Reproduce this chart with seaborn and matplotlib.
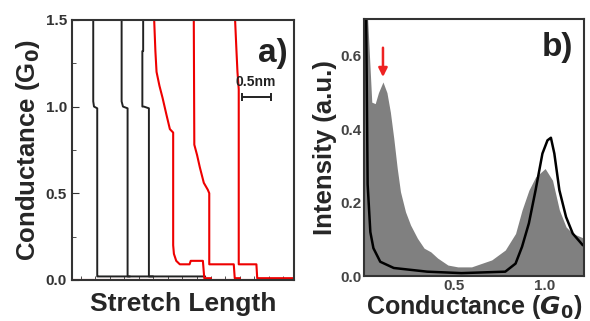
import numpy as np
import pandas as pd
import seaborn as sns
import matplotlib.pyplot as plt

# ---- panel a) : conductance traces (x in nm, y in G0)
black1_x = [0.367, 0.367, 0.380, 0.436, 0.436, 0.45, 2.30]
black1_y = [1.50, 1.03, 1.00, 0.99, 0.02, 0.02, 0.02]
black2_x = [0.857, 0.857, 0.880, 0.960, 0.960, 1.00]
black2_y = [1.50, 1.03, 1.00, 0.99, 0.02, 0.02]
black3_x = [1.229, 1.229, 1.215, 1.215, 1.240, 1.328, 1.328, 1.40]
black3_y = [1.50, 1.32, 1.32, 1.00, 1.00, 0.99, 0.02, 0.02]
red1_x = [1.419, 1.440, 1.460, 1.510, 1.564, 1.633, 1.690, 1.747, 1.747,
          1.760, 1.800, 1.862, 2.030, 2.050, 2.260, 2.284, 2.40]
red1_y = [1.50, 1.32, 1.20, 1.12, 1.05, 0.95, 0.87, 0.85, 0.20,
          0.15, 0.11, 0.09, 0.09, 0.11, 0.11, 0.01, 0.01]
red2_x = [2.103, 2.108, 2.112, 2.160, 2.207, 2.276, 2.345, 2.370, 2.370,
          2.793, 2.810, 2.90]
red2_y = [1.50, 1.10, 0.78, 0.72, 0.65, 0.56, 0.52, 0.50, 0.09,
          0.09, 0.01, 0.01]
red3_x = [2.816, 2.840, 2.857, 2.879, 2.879, 3.184, 3.198, 3.83]
red3_y = [1.50, 1.32, 1.20, 1.10, 0.09, 0.09, 0.01, 0.01]
red_base_x = [0.0, 3.83]
red_base_y = [0.0, 0.0]

# ---- panel b) : conductance histogram
hist_x = [0.0, 0.02, 0.043, 0.062, 0.08, 0.105, 0.127, 0.146, 0.165, 0.184,
          0.202, 0.23, 0.258, 0.296, 0.333, 0.37, 0.408, 0.465, 0.52, 0.596,
          0.708, 0.783, 0.84, 0.876, 0.914, 0.951, 1.004, 1.045, 1.083, 1.12,
          1.157, 1.22]
hist_y = [0.70, 0.70, 0.474, 0.47, 0.50, 0.529, 0.50, 0.447, 0.375, 0.294,
          0.23, 0.175, 0.139, 0.103, 0.076, 0.066, 0.049, 0.03, 0.025, 0.025,
          0.044, 0.071, 0.116, 0.18, 0.234, 0.27, 0.293, 0.261, 0.18, 0.134,
          0.116, 0.103]
fit_x = [0.0, 0.012, 0.02, 0.035, 0.052, 0.09, 0.165, 0.35, 0.54, 0.783,
         0.84, 0.876, 0.914, 0.951, 0.989, 1.017, 1.036, 1.055, 1.083, 1.12,
         1.157, 1.213]
fit_y = [0.70, 0.70, 0.25, 0.12, 0.076, 0.039, 0.022, 0.012, 0.008, 0.012,
         0.034, 0.08, 0.144, 0.234, 0.334, 0.37, 0.377, 0.334, 0.234, 0.161,
         0.116, 0.084]

sns.set_style("ticks")
plt.rcParams['font.family'] = ['Liberation Sans', 'DejaVu Sans']
plt.rcParams['font.weight'] = 'bold'
plt.rcParams['axes.labelweight'] = 'bold'

fig = plt.figure(figsize=(5.9, 3.21), dpi=100)
ax1 = fig.add_axes([0.122, 0.128, 0.376, 0.81])
ax2 = fig.add_axes([0.617, 0.140, 0.373, 0.80])

spine_col = '#333333'

# panel a
sns.lineplot(x=red_base_x, y=red_base_y, ax=ax1, color='#ee0000', lw=1.5, sort=False, estimator=None)
for xs, ys in [(black1_x, black1_y), (black2_x, black2_y), (black3_x, black3_y)]:
    sns.lineplot(x=xs, y=ys, ax=ax1, color='#222222', lw=1.4, sort=False, estimator=None)
for xs, ys in [(red1_x, red1_y), (red2_x, red2_y), (red3_x, red3_y)]:
    sns.lineplot(x=xs, y=ys, ax=ax1, color='#ee0000', lw=1.5, sort=False, estimator=None)

ax1.set_xlim(0, 3.83)
ax1.set_ylim(0, 1.5)
ax1.set_yticks([0.0, 0.5, 1.0, 1.5])
ax1.set_yticks([0.25, 0.75, 1.25], minor=True)
ax1.set_xticks(np.arange(0.15, 3.8, 0.25), minor=True)
ax1.set_xticks([])
ax1.tick_params(axis='both', which='both', direction='in', colors=spine_col, labelsize=11, length=3)
ax1.tick_params(axis='y', which='major', length=5)
ax1.set_yticklabels(['0.0', '0.5', '1.0', '1.5'], color='#333333', fontweight='bold')
ax1.set_xlabel('Stretch Length', fontsize=19, labelpad=5)
ax1.set_ylabel('Conductance (G$_\\mathbf{0}$)', fontsize=18.5, labelpad=3)
ax1.text(0.97, 0.93, 'a)', transform=ax1.transAxes, ha='right', va='top', fontsize=24, fontweight='bold', color='#222222')
# 0.5 nm scale bar
ax1.errorbar([3.18], [1.056], xerr=[0.25], color='#222222', lw=1.4, capsize=3, capthick=1.4)
ax1.text(3.18, 1.10, '0.5nm', ha='center', va='bottom', fontsize=10, fontweight='bold', color='#222222')

# panel b
ax2.fill_between(hist_x, hist_y, color='#808080', lw=0)
sns.lineplot(x=fit_x, y=fit_y, ax=ax2, color='black', lw=1.8, sort=False, estimator=None)
ax2.annotate('', xy=(0.105, 0.535), xytext=(0.105, 0.63),
             arrowprops=dict(arrowstyle='-|>', color='#ee2222', lw=1.8, mutation_scale=13))
ax2.set_xlim(0, 1.22)
ax2.set_ylim(0, 0.7)
ax2.set_xticks([0.5, 1.0])
ax2.set_yticks([0.0, 0.2, 0.4, 0.6])
ax2.tick_params(axis='both', which='both', length=0, colors='#444444', labelsize=11, pad=2)
ax2.set_xlabel('Conductance ($\\mathbfit{G}_\\mathbf{0}$)', fontsize=18, labelpad=0)
ax2.set_ylabel('Intensity (a.u.)', fontsize=18.5, labelpad=2)
ax2.text(0.95, 0.95, 'b)', transform=ax2.transAxes, ha='right', va='top', fontsize=24, fontweight='bold', color='#222222')

for ax in (ax1, ax2):
    for sp in ax.spines.values():
        sp.set_visible(True)
        sp.set_color(spine_col)
        sp.set_linewidth(1.5)

fig.savefig('out.png', dpi=100)
